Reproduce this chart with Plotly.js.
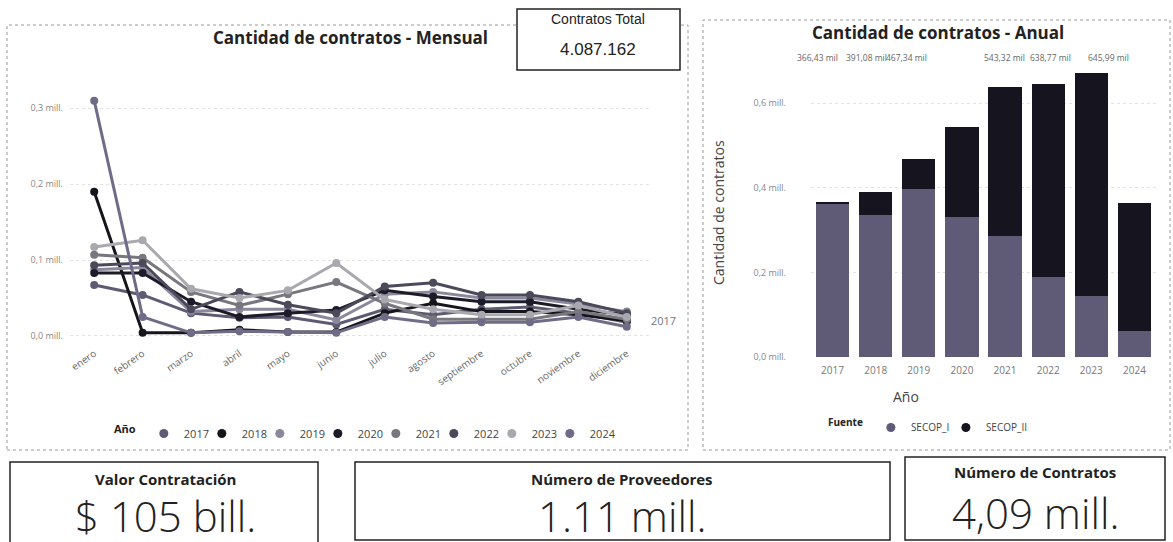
<!DOCTYPE html>
<html>
<head>
<meta charset="utf-8">
<script src="https://cdn.plot.ly/plotly-3.0.1.min.js"></script>
<style>
html,body{margin:0;padding:0;background:#fff;}
#chart{width:1173px;height:542px;}
</style>
</head>
<body>
<div id="chart"></div>
<script>
// ---------- DATA ----------
const months = ['enero','febrero','marzo','abril','mayo','junio','julio','agosto','septiembre','octubre','noviembre','diciembre'];
const years = ['2017','2018','2019','2020','2021','2022','2023','2024'];

// monthly contracts (millions)
const m2017 = [0.067, 0.054, 0.030, 0.024, 0.025, 0.015, 0.035, 0.028, 0.035, 0.038, 0.030, 0.018];
const m2018 = [0.190, 0.004, 0.004, 0.008, 0.005, 0.005, 0.030, 0.043, 0.032, 0.032, 0.028, 0.020];
const m2019 = [0.087, 0.090, 0.032, 0.035, 0.035, 0.021, 0.055, 0.058, 0.050, 0.050, 0.042, 0.032];
const m2020 = [0.083, 0.083, 0.045, 0.025, 0.030, 0.034, 0.060, 0.052, 0.045, 0.045, 0.035, 0.028];
const m2021 = [0.107, 0.103, 0.058, 0.040, 0.055, 0.071, 0.043, 0.022, 0.022, 0.022, 0.032, 0.022];
const m2022 = [0.093, 0.096, 0.035, 0.058, 0.041, 0.030, 0.065, 0.070, 0.054, 0.054, 0.045, 0.030];
const m2023 = [0.117, 0.126, 0.062, 0.050, 0.060, 0.096, 0.048, 0.035, 0.028, 0.028, 0.040, 0.025];
const m2024 = [0.310, 0.025, 0.004, 0.006, 0.005, 0.004, 0.025, 0.017, 0.018, 0.018, 0.025, 0.012];
const monthly = [m2017, m2018, m2019, m2020, m2021, m2022, m2023, m2024];

// annual contracts by source (millions)
const sources = ['SECOP_I', 'SECOP_II'];
const secopI  = [0.3614, 0.335, 0.397, 0.330, 0.285, 0.190, 0.145, 0.062];
const secopII = [0.0050, 0.056, 0.070, 0.213, 0.354, 0.456, 0.525, 0.303];
const totalLabels = ['366,43 mil','391,08 mil','467,34 mil','543,32 mil','638,77 mil','645,99 mil'];
const labelYears = ['2017','2018','2019','2020','2021','2022'];

const lineTicks = [0, 0.1, 0.2, 0.3];
const lineTickText = ['0,0 mill.','0,1 mill.','0,2 mill.','0,3 mill.'];
const barTicks = [0, 0.2, 0.4, 0.6];
const barTickText = ['0,0 mill.','0,2 mill.','0,4 mill.','0,6 mill.'];

const kpiTitles = ['Valor Contratación','Número de Proveedores','Número de Contratos'];
const kpiValues = ['$ 105 bill.','1.11 mill.','4,09 mill.'];
const totalTitle = 'Contratos Total';
const totalValue = '4.087.162';

// ---------- STYLE ----------
const W = 1173, H = 542;
const X = p => p / W;
const Y = p => 1 - p / H;
const yearColors = ['#5d5a72','#15161c','#8a889c','#1c1b27','#77777d','#4a4a5a','#a8a8af','#6f6c88'];
const sourceColors = ['#5f5a75', '#16151f'];
const FONT = 'Open Sans, DejaVu Sans, sans-serif';
const labelShift = [-15, -9, -12, 43, 45, 60];

const traces = [];
monthly.forEach((vals, i) => {
  traces.push({
    type: 'scatter', mode: 'lines+markers', x: months, y: vals,
    xaxis: 'x', yaxis: 'y', name: years[i], showlegend: false,
    line: {color: yearColors[i], width: 3},
    marker: {color: yearColors[i], size: 8}
  });
});
// legend entries (marker only), plus an empty spacer so the last label is not clipped
years.forEach((yr, i) => {
  traces.push({
    type: 'scatter', mode: 'markers', x: [null], y: [null],
    xaxis: 'x', yaxis: 'y', name: yr, legend: 'legend',
    marker: {color: yearColors[i], size: 9}
  });
});
traces.push({type:'scatter', mode:'markers', x:[null], y:[null], xaxis:'x', yaxis:'y', name:' ', legend:'legend',
  marker:{color:'rgba(0,0,0,0)', size:1}});

traces.push({
  type: 'bar', x: years, y: secopI, name: sources[0], xaxis: 'x2', yaxis: 'y2',
  marker: {color: sourceColors[0]}, showlegend: false
});
traces.push({
  type: 'bar', x: years, y: secopII, name: sources[1], xaxis: 'x2', yaxis: 'y2',
  marker: {color: sourceColors[1]}, showlegend: false
});
sources.forEach((s, i) => {
  traces.push({
    type: 'scatter', mode: 'markers', x: [null], y: [null],
    xaxis: 'x2', yaxis: 'y2', name: s, legend: 'legend2',
    marker: {color: sourceColors[i], size: 9}
  });
});
traces.push({type:'scatter', mode:'markers', x:[null], y:[null], xaxis:'x2', yaxis:'y2', name:' ', legend:'legend2',
  marker:{color:'rgba(0,0,0,0)', size:1}});

const shapes = [
  {type:'rect', xref:'paper', yref:'paper', x0:X(7), x1:X(688), y0:Y(450), y1:Y(25), line:{color:'#999', width:1, dash:'dot'}, layer:'below'},
  {type:'rect', xref:'paper', yref:'paper', x0:X(703), x1:X(1170), y0:Y(450), y1:Y(20), line:{color:'#999', width:1, dash:'dot'}, layer:'below'},
  {type:'rect', xref:'paper', yref:'paper', x0:X(517), x1:X(680), y0:Y(70), y1:Y(9), line:{color:'#222', width:1.5}, fillcolor:'#fff'},
  {type:'rect', xref:'paper', yref:'paper', x0:X(10), x1:X(318), y0:Y(548), y1:Y(462), line:{color:'#222', width:1.5}},
  {type:'rect', xref:'paper', yref:'paper', x0:X(355), x1:X(890), y0:Y(540), y1:Y(462), line:{color:'#222', width:1.5}},
  {type:'rect', xref:'paper', yref:'paper', x0:X(905), x1:X(1165), y0:Y(540), y1:Y(457), line:{color:'#222', width:1.5}}
];

function txt(px, py, text, font, extra) {
  return Object.assign({xref:'paper', yref:'paper', x:X(px), y:Y(py), text:text, showarrow:false,
    xanchor:'center', yanchor:'middle', font:Object.assign({family:FONT}, font)}, extra || {});
}
const ann = [
  txt(350, 38, '<b>Cantidad de contratos - Mensual</b>', {size:17, color:'#222'}),
  txt(938, 33, '<b>Cantidad de contratos - Anual</b>', {size:17, color:'#222'}),
  txt(598, 19, totalTitle, {family:'Liberation Sans, Arial, sans-serif', size:14, color:'#222'}),
  txt(598, 49, totalValue, {family:'Liberation Sans, Arial, sans-serif', size:17, color:'#222'}),
  txt(718, 212, 'Cantidad de contratos', {size:14, color:'#444'}, {textangle:-90}),
  txt(906, 396, 'Año', {size:14, color:'#444'}),
  txt(165, 479, '<b>'+kpiTitles[0]+'</b>', {size:15, color:'#222'}),
  txt(622, 479, '<b>'+kpiTitles[1]+'</b>', {size:15, color:'#222'}),
  txt(1035, 472, '<b>'+kpiTitles[2]+'</b>', {size:15, color:'#222'}),
  txt(165, 515, kpiValues[0], {size:42, color:'#222', weight:300}),
  txt(622, 515, kpiValues[1], {size:42, color:'#222', weight:300}),
  txt(1035, 512, kpiValues[2], {size:42, color:'#222', weight:300}),
  {xref:'x', yref:'y', x:months.length - 1, y:m2017[11], text:'2017', showarrow:false, xanchor:'left', yanchor:'middle',
   xshift:22, yshift:2, font:{family:FONT, size:11, color:'#777'}}
];
totalLabels.forEach((t, i) => {
  ann.push({xref:'x2', yref:'paper', x:years.indexOf(labelYears[i]), y:Y(57), text:t, showarrow:false,
    xanchor:'center', yanchor:'middle', xshift:labelShift[i], font:{family:FONT, size:8.5, color:'#666'}});
});

const layout = {
  width: W, height: H,
  margin: {l:0, r:0, t:0, b:0},
  paper_bgcolor: '#fff', plot_bgcolor: 'rgba(0,0,0,0)',
  font: {family: FONT, color: '#777'},
  barmode: 'stack', bargap: 0.23,
  xaxis: {domain:[X(70), X(651)], type:'category', range:[-0.5, 11.5], showgrid:false, zeroline:false, showline:false,
          tickangle:-35, tickfont:{size:10, color:'#666'}, anchor:'y', ticks:''},
  yaxis: {domain:[Y(345), Y(90)], range:[-0.012, 0.324], tickvals:lineTicks, ticktext:lineTickText,
          showgrid:true, gridcolor:'#e2e2e2', griddash:'dot', zeroline:false, showline:false,
          tickfont:{size:9, color:'#888'}, ticklabelstandoff:6, anchor:'x'},
  xaxis2: {domain:[X(811), X(1156)], type:'category', range:[-0.5, 7.5], showgrid:false, zeroline:false, showline:false,
           tickfont:{size:10, color:'#777'}, anchor:'y2', ticks:'', ticklabelstandoff:6},
  yaxis2: {domain:[Y(357), Y(65)], range:[0, 0.69], tickvals:barTicks, ticktext:barTickText,
           showgrid:true, gridcolor:'#e2e2e2', griddash:'dot', zeroline:false, showline:false,
           tickfont:{size:9, color:'#888'}, ticklabelstandoff:24, anchor:'x2'},
  legend: {orientation:'h', x:X(112), y:Y(419), xanchor:'left', yanchor:'top', bgcolor:'rgba(0,0,0,0)',
           title:{text:'<b>Año</b>', font:{size:11, color:'#222'}}, font:{size:11, color:'#444'},
           itemwidth:30, entrywidth:13, traceorder:'normal'},
  legend2: {orientation:'h', x:X(826), y:Y(413), xanchor:'left', yanchor:'top', bgcolor:'rgba(0,0,0,0)',
           title:{text:'<b>Fuente</b>', font:{size:10, color:'#222'}}, font:{size:10, color:'#444'},
           itemwidth:30, entrywidth:30, traceorder:'normal'},
  shapes: shapes,
  annotations: ann,
  showlegend: true
};

Plotly.newPlot('chart', traces, layout, {displayModeBar:false, staticPlot:true});
</script>
</body>
</html>
